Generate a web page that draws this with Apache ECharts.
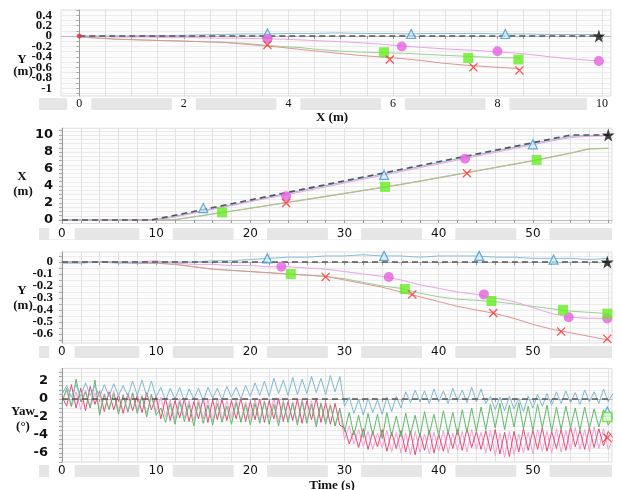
<!DOCTYPE html>
<html><head><meta charset="utf-8">
<script src="https://cdn.jsdelivr.net/npm/echarts@6.0.0/dist/echarts.min.js"></script>
<style>html,body{margin:0;padding:0;background:#fff}#c{width:620px;height:490px}</style>
</head><body><div id="c"></div><script>
// ---------- data ----------
// sampled time base for X / Y trajectories (s)
const timeS = [0,2,4,6,8,10,12,14,16,18,20,22,24,26,28,30,32,34,36,38,40,42,44,46,48,50,52,54,56,58];
// reference path (dashed)
const refT = [0, 9.5, 54, 58.4];
const refX = [0, 0, 10, 10];
const refY = [0, 0, 0, 0];
// X (m) vs time
const blueX  = [0,0,0,0,0,0.05,0.45,0.9,1.35,1.8,2.25,2.7,3.15,3.6,4.05,4.5,4.95,5.4,5.85,6.3,6.75,7.2,7.65,8.1,8.55,9.0,9.45,9.85,9.95,9.95];
const magX   = [0,0,0,0,0,0.02,0.35,0.8,1.25,1.7,2.15,2.6,3.0,3.45,3.9,4.35,4.8,5.25,5.7,6.15,6.6,7.05,7.5,7.95,8.4,8.85,9.3,9.7,9.85,9.9];
const greenX = [0,0,0,0,0,0,0.05,0.38,0.72,1.06,1.4,1.75,2.1,2.45,2.8,3.15,3.5,3.85,4.22,4.6,5.0,5.4,5.8,6.2,6.6,7.0,7.45,7.9,8.4,8.45];
const redX   = [0,0,0,0,0,0,0.04,0.36,0.7,1.03,1.37,1.72,2.06,2.4,2.75,3.1,3.45,3.8,4.17,4.55,4.95,5.35,5.75,6.15,6.55,6.95,7.4,7.85,8.35,8.42];
// Y (m) vs time
const blueY  = [-0.01,-0.01,0,-0.01,-0.01,0,0,0,0.01,0.01,0.02,0.03,0.04,0.04,0.05,0.05,0.06,0.05,0.05,0.04,0.05,0.05,0.05,0.04,0.04,0.03,0.03,0.03,0.02,0.03];
const magY   = [0,0,0,0,0,0.01,-0.01,-0.02,-0.02,-0.03,-0.03,-0.04,-0.04,-0.05,-0.06,-0.08,-0.1,-0.12,-0.15,-0.19,-0.22,-0.25,-0.27,-0.3,-0.33,-0.38,-0.43,-0.46,-0.47,-0.47];
const greenY = [0,0,0,0,-0.01,-0.01,-0.02,-0.04,-0.06,-0.07,-0.08,-0.09,-0.1,-0.11,-0.12,-0.14,-0.17,-0.2,-0.22,-0.26,-0.29,-0.31,-0.32,-0.33,-0.35,-0.37,-0.39,-0.41,-0.42,-0.43];
const redY   = [0,0,0,0,-0.01,-0.01,-0.02,-0.04,-0.06,-0.07,-0.08,-0.09,-0.1,-0.11,-0.12,-0.15,-0.18,-0.21,-0.25,-0.29,-0.33,-0.37,-0.4,-0.43,-0.47,-0.52,-0.56,-0.59,-0.62,-0.65];
// Yaw (deg), one sample every 0.5 s from t = 0
const YAW_DT = 0.5;
const yawBlue = [0.5,1.5,0.2,1.6,0.3,1.8,0.4,1.5,0.2,1.6,0.3,1.7,0.4,1.5,0.3,2.0,0.4,2.1,0.3,2.0,0.2,
  1.3,-0.2,1.2,0.0,1.3,-0.3,1.1,0.0,1.2,-0.2,1.3,0.1,1.2,-0.1,1.4,0.2,1.3,0.0,1.5,0.3,
  1.8,0.4,2.0,0.3,2.3,0.6,2.1,0.4,2.4,0.5,2.2,0.6,2.5,0.7,2.3,0.5,2.6,0.8,2.5,
  -0.8,0.2,-1.6,0.0,-1.8,0.1,-1.5,-0.1,-1.7,0.2,-1.4,0.3,-1.0,
  0.8,-0.4,1.0,-0.3,0.9,-0.5,1.1,-0.3,0.9,-0.5,1.2,-0.2,1.0,-0.4,1.3,-0.3,1.1,-0.5,
  0.3,-1.2,0.2,-1.3,0.3,-1.1,0.1,-1.4,0.3,-1.0,0.5,-0.8,0.6,-0.7,
  0.8,-0.5,0.9,-0.4,0.7,-0.6,1.0,-0.3,0.8,-0.5,1.1,-0.3,0.6];
const yawGreen = [-0.5,1.2,-0.8,2.2,-0.3,0.8,-1.0,2.1,-1.8,0.5,-1.2,0.6,-1.7,0.4,-1.4,0.7,-1.6,0.3,-2.0,0.5,-1.8,
  -1.0,-2.6,-0.5,-2.8,-0.3,-2.5,-0.6,-3.0,-0.4,-2.7,-0.7,-2.9,-0.5,-2.6,-0.8,-2.8,-0.4,-2.6,-0.6,-2.9,
  -0.5,-2.7,-0.3,-2.8,-0.6,-3.0,-0.4,-2.6,-0.5,-2.9,-0.3,-2.7,-0.6,-3.1,-0.5,-2.8,-0.7,-3.0,-1.0,
  -3.6,-1.5,-4.0,-1.8,-4.3,-1.6,-4.0,-1.7,-4.4,-1.5,-4.1,-1.9,-4.2,
  -1.6,-4.0,-1.8,-4.2,-1.4,-3.9,-1.7,-4.1,-1.3,-3.8,-1.5,-4.0,-1.2,-3.7,-1.0,-3.6,-0.9,-3.4,
  -0.6,-3.2,-0.5,-3.4,-0.7,-3.1,-0.4,-3.3,-0.8,-3.5,-0.6,-3.2,-0.7,-3.6,
  -0.9,-3.4,-0.8,-3.2,-1.0,-3.5,-0.9,-3.3,-1.1,-3.1,-1.2,-2.9,-2.0];
const yawRed = [0.3,-0.8,1.6,-1.0,1.2,-1.3,1.4,-0.6,0.9,-1.4,0.8,-1.2,0.5,-1.6,0.6,-1.3,0.4,-1.5,0.7,-1.2,0.3,
  -2.2,0.1,-2.4,-0.2,-2.1,0.0,-2.5,-0.3,-2.2,0.1,-2.6,-0.1,-2.3,0.0,-2.4,-0.2,-2.2,0.1,-2.5,-0.3,
  -2.3,0.0,-2.6,-0.2,-2.2,0.1,-2.5,-0.3,-2.4,0.0,-2.7,-0.2,-2.3,0.1,-2.6,-0.4,-2.8,-0.5,-2.9,
  -3.2,-5.0,-3.5,-5.4,-3.3,-5.6,-3.6,-5.3,-3.4,-5.8,-3.7,-5.5,-3.5,
  -5.9,-3.6,-6.2,-3.8,-5.7,-3.5,-6.0,-3.9,-5.8,-3.6,-5.5,-3.4,-5.7,-3.3,-5.4,-3.6,-5.6,-3.5,
  -5.8,-3.4,-6.1,-3.7,-6.4,-3.6,-5.9,-3.3,-5.7,-3.5,-5.6,-3.2,-5.8,-3.6,
  -5.5,-3.4,-5.7,-3.1,-5.3,-3.5,-5.6,-3.2,-5.4,-3.3,-5.2,-3.6,-4.3];
const yawMag = [0.0,0.9,-0.9,0.8,-1.2,1.0,-1.0,0.7,-1.4,0.6,-1.1,0.9,-1.3,0.5,-1.5,0.6,-1.2,0.4,-1.6,0.5,-1.4,
  0.2,-2.0,-0.1,-2.3,0.1,-2.1,-0.2,-2.4,0.0,-2.2,-0.1,-2.5,0.1,-2.3,-0.2,-2.1,0.0,-2.4,-0.3,-2.2,
  0.0,-2.4,-0.2,-2.1,0.1,-2.5,-0.1,-2.3,-0.3,-2.6,0.0,-2.4,-0.2,-2.7,-0.4,-2.5,-0.6,-3.0,-1.2,
  -4.5,-3.0,-5.0,-3.4,-5.3,-3.6,-5.6,-3.8,-5.4,-3.5,-5.9,-3.7,-6.0,
  -3.8,-6.2,-3.6,-5.9,-3.9,-6.1,-3.7,-5.8,-3.5,-6.0,-3.8,-5.7,-3.6,-5.9,-3.4,-5.6,-3.7,-6.0,
  -3.5,-6.3,-3.8,-6.5,-3.6,-6.2,-3.9,-6.0,-3.7,-6.1,-3.4,-5.8,-3.6,-6.0,
  -3.3,-5.9,-3.5,-5.7,-3.2,-5.6,-3.4,-5.8,-3.1,-5.5,-3.3,-5.6,-4.5];
// markers ([x, y])
const p1Tri  = [[3.6,0.05],[6.35,0.04],[8.15,0.04]];
const p1Circ = [[3.6,-0.05],[6.17,-0.2],[8.0,-0.29],[9.94,-0.48]];
const p1Sq   = [[5.83,-0.31],[7.44,-0.42],[8.4,-0.45]];
const p1X    = [[3.6,-0.17],[5.94,-0.45],[7.54,-0.6],[8.42,-0.66]];
const p1Star = [[9.94,0]];
const p1Start= [[0,0]];
const p2Tri  = [[15,1.4],[34.2,5.3],[50,8.9]];
const p2Circ = [[23.8,2.8],[42.8,7.2]];
const p2Sq   = [[17,0.9],[34.3,3.9],[50.4,7.05]];
const p2X    = [[23.8,2.0],[43,5.5]];
const p2Star = [[58,10]];
const p3Tri  = [[21.8,0.03],[34.2,0.05],[44.3,0.05],[52.2,0.02]];
const p3Circ = [[23.3,-0.04],[34.7,-0.125],[44.8,-0.27],[53.8,-0.46],[57.9,-0.47]];
const p3Sq   = [[24.3,-0.10],[36.4,-0.225],[45.6,-0.325],[53.2,-0.40],[57.9,-0.43]];
const p3X    = [[28,-0.125],[37.2,-0.27],[45.8,-0.425],[53,-0.58],[57.9,-0.64]];
const p3Star = [[57.9,0]];
const p4Tri  = [[57.9,-1.4]];
const p4Sq   = [[57.9,-2.0]];
const p4X    = [[57.9,-4.3]];
// tick labels
const p1XLabels = [0,2,4,6,8,10];
const p1YLabels = [0.4,0.2,0,-0.2,-0.4,-0.6,-0.8,-1];
const p2YLabels = [0,2,4,6,8,10];
const p3YLabels = [0,-0.1,-0.2,-0.3,-0.4,-0.5,-0.6];
const p4YLabels = [2,0,-2,-4,-6];
const timeLabels = [0,10,20,30,40,50];

// ---------- helpers ----------
function zip(a,b){ return a.map((v,i)=>[v,b[i]]); }
function yawPts(a){ return a.map((v,i)=>[i*YAW_DT, v]); }
function grid(a,b,s){ const r=[]; for(let k=0;a+k*s<=b+1e-9;k++) r.push(+(a+k*s).toFixed(4)); return r; }
function fmt(v){ return String(Math.round(v*1000)/1000); }

const L = 61, W = 551;
const grids = [
  {left:L, width:W, top:10, height:86},
  {left:L, width:W, top:128.2, height:95.2},
  {left:L, width:W, top:252, height:91},
  {left:L, width:W, top:368.4, height:93.6}
];
const xRanges = [[-0.35,10.17],[-0.1,58.4],[-0.1,58.4],[-0.1,58.4]];
const yRanges = [[-1.15,0.5],[-0.4,10.8],[-0.675,0.083],[-7,3.4]];
const xTicks = [grid(0,10,0.5), grid(0,58,2), grid(0,58,2), grid(0,58,2)];
const xLab = [p1XLabels, timeLabels, timeLabels, timeLabels];
const yTicks = [grid(-1.1,0.5,0.1), grid(0,10.5,0.5), grid(-0.65,0.05,0.05), grid(-7,3,0.5)];
const yLab = [p1YLabels, p2YLabels, p3YLabels, p4YLabels];
const serif = '"Liberation Serif", "DejaVu Serif", serif';
const sans = '"DejaVu Sans", "Liberation Sans", sans-serif';
const yFont = [serif, sans, serif, sans];
const yFontSize = [13, 13, 13, 13];
const xFont = [serif, sans, sans, sans];
const xMargin = [2, 4, 3, 3];
const yMargin = [9, 8, 8, 13];

const xAxes = [], yAxes = [];
for (let i=0;i<4;i++){
  xAxes.push({type:'value', gridIndex:i, min:xRanges[i][0], max:xRanges[i][1],
    axisLine:{show:true, lineStyle:{color:'#bbb'}},
    axisTick:{show:true, customValues:xTicks[i], length:3, lineStyle:{color:'#999'}},
    axisLabel:{customValues:xLab[i], formatter:fmt, margin:xMargin[i], color:'#111', fontSize:12,
      fontFamily:xFont[i], backgroundColor:'#fff', padding:[0,9,0,9], lineHeight:12,
      showMinLabel:true, showMaxLabel:true},
    splitLine:{show:true, lineStyle:{color:'#e2e2e2', width:1}}
  });
  // two y axes per grid so that closely packed labels never get dropped for overlap
  const evenLab = yLab[i].filter((v,k)=>k%2===0), oddLab = yLab[i].filter((v,k)=>k%2===1);
  const labStyle = {formatter:fmt, margin:yMargin[i], color:'#111', fontSize:yFontSize[i],
      fontFamily:yFont[i], fontWeight:'bold', showMinLabel:true, showMaxLabel:true};
  yAxes.push({type:'value', gridIndex:i, min:yRanges[i][0], max:yRanges[i][1],
    axisLine:{show:true, lineStyle:{color:'#999'}},
    axisTick:{show:true, customValues:yTicks[i], length:3, lineStyle:{color:'#aaa'}},
    axisLabel:Object.assign({customValues:evenLab}, labStyle),
    splitLine:{show:true, lineStyle:{color:'#ececec', width:1}}
  });
  yAxes.push({type:'value', gridIndex:i, min:yRanges[i][0], max:yRanges[i][1], position:'left', offset:0,
    axisLine:{show:false}, axisTick:{show:false}, splitLine:{show:false},
    axisLabel:Object.assign({customValues:oddLab}, labStyle)
  });
}

const lineC = {blue:'#86bdd6', mag:'#e8a4e6', green:'#9ccf94', red:'#e09494'};
const yawC  = {blue:'#80b6d2', mag:'#f2a0d8', green:'#5fb86a', red:'#e04e78'};
const MK = {
  tri:{symbol:'triangle', symbolSize:9, itemStyle:{color:'rgba(215,236,248,0.9)', borderColor:'#3a98cf', borderWidth:1.2}},
  circ:{symbol:'circle', symbolSize:10, itemStyle:{color:'#e660df'}},
  sq:{symbol:'rect', symbolSize:10, itemStyle:{color:'#66ee22'}},
  sqHollow:{symbol:'rect', symbolSize:9, itemStyle:{color:'rgba(240,255,230,0.8)', borderColor:'#66dd22', borderWidth:1.5}},
  x:{symbol:'path://M1 0L5 4L9 0L10 1L6 5L10 9L9 10L5 6L1 10L0 9L4 5L0 1Z', symbolSize:9, itemStyle:{color:'#ff2a2a'}},
  star:{symbol:'path://M50 0L61.8 35.4L99 35.4L69 57.3L80.3 92.7L50 70.8L19.7 92.7L31 57.3L1 35.4L38.2 35.4Z', symbolSize:13, itemStyle:{color:'#111'}},
  start:{symbol:'circle', symbolSize:5, itemStyle:{color:'#e23030'}}
};
function ln(i, data, color, z, w){ return {type:'line', xAxisIndex:i, yAxisIndex:2*i, data, symbol:'none', silent:true,
  lineStyle:{color, width:w||1}, z:z||2}; }
function dash(i, data){ return {type:'line', xAxisIndex:i, yAxisIndex:2*i, data, symbol:'none', silent:true,
  lineStyle:{color:'#555', width:1.6, type:[6,4]}, z:4}; }
function sc(i, data, mk){ return Object.assign({type:'scatter', xAxisIndex:i, yAxisIndex:2*i, data, silent:true, z:6}, JSON.parse(JSON.stringify(mk))); }

const series = [
  // panel 1: Y vs X
  ln(0, zip(greenX, greenY), lineC.green), ln(0, zip(redX, redY), lineC.red),
  ln(0, zip(magX, magY), lineC.mag), ln(0, zip(blueX, blueY), lineC.blue),
  dash(0, zip(refX, refY)),
  sc(0,p1Tri,MK.tri), sc(0,p1Circ,MK.circ), sc(0,p1Sq,MK.sq), sc(0,p1X,MK.x), sc(0,p1Star,MK.star), sc(0,p1Start,MK.start),
  // panel 2: X vs t
  ln(1, zip(timeS, redX), lineC.red), ln(1, zip(timeS, greenX), lineC.green),
  ln(1, zip(timeS, blueX), lineC.blue), ln(1, zip(timeS, magX), lineC.mag),
  dash(1, zip(refT, refX)),
  sc(1,p2Tri,MK.tri), sc(1,p2Circ,MK.circ), sc(1,p2Sq,MK.sq), sc(1,p2X,MK.x), sc(1,p2Star,MK.star),
  // panel 3: Y vs t
  ln(2, zip(timeS, greenY), lineC.green), ln(2, zip(timeS, redY), lineC.red),
  ln(2, zip(timeS, magY), lineC.mag), ln(2, zip(timeS, blueY), lineC.blue),
  dash(2, zip(refT, refY)),
  sc(2,p3Tri,MK.tri), sc(2,p3Circ,MK.circ), sc(2,p3Sq,MK.sq), sc(2,p3X,MK.x), sc(2,p3Star,MK.star),
  // panel 4: yaw vs t
  ln(3, yawPts(yawMag), yawC.mag), ln(3, yawPts(yawRed), yawC.red),
  ln(3, yawPts(yawGreen), yawC.green), ln(3, yawPts(yawBlue), yawC.blue),
  dash(3, zip(refT, refY)),
  sc(3,p4Tri,MK.tri), sc(3,p4Sq,MK.sqHollow), sc(3,p4X,MK.x)
];

const bandY = [98, 228, 346, 465];
const graphic = [];
bandY.forEach(y=>graphic.push({type:'rect', shape:{x:39,y:y,width:573,height:12}, style:{fill:'#e6e6e6'}, z:-10, silent:true}));
const tfont = 'bold 13px ' + serif;
const texts = [
  ['Y',22,60],['(m)',23,72],
  ['X',22,177],['(m)',23,192],
  ['Y',22,291],['(m)',23,306],
  ['Yaw',23,412],['(°)',23,427],
  ['X (m)',332,118],['Time (s)',332,486]
];
texts.forEach(t=>graphic.push({type:'text', x:t[1], y:t[2], silent:true, z:10,
  style:{text:t[0], fill:'#111', font:tfont, textAlign:'center', textVerticalAlign:'middle'}}));

const chart = echarts.init(document.getElementById('c'), null, {renderer:'canvas'});
chart.setOption({
  animation:false,
  backgroundColor:'#fff',
  grid: grids.map(g=>Object.assign({show:true, backgroundColor:'#fcfcfc', borderColor:'#ddd', borderWidth:1}, g)),
  xAxis:xAxes, yAxis:yAxes, series, graphic
});
</script></body></html>
